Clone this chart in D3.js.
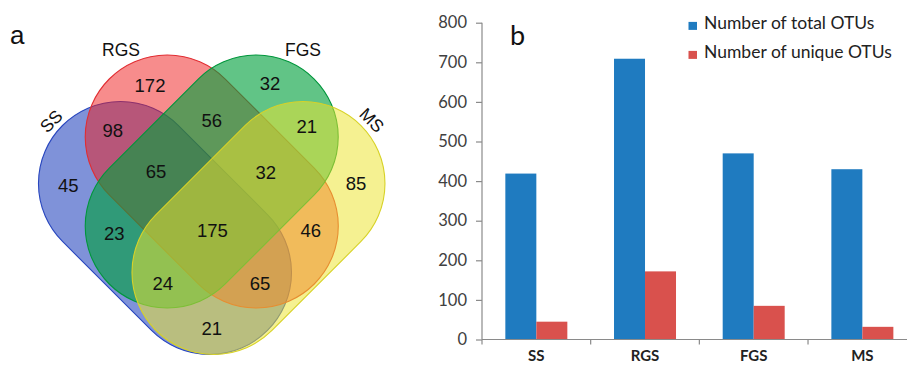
<!DOCTYPE html>
<html>
<head>
<meta charset="utf-8">
<script src="https://cdn.jsdelivr.net/npm/d3@7"></script>
<style>
  html, body { margin: 0; padding: 0; background: #ffffff; }
  svg { display: block; }
</style>
</head>
<body>
<svg id="fig" width="907" height="365"></svg>
<script>
// ---------- Panel a: four-set Venn ----------
const setNames = ["SS", "RGS", "FGS", "MS"];
// region keys (set membership) and the OTU count of each region
const vennRegions = [
  "SS", "RGS", "FGS", "MS",
  "SS&RGS", "RGS&FGS", "FGS&MS",
  "SS&RGS&FGS", "RGS&FGS&MS",
  "SS&FGS", "SS&RGS&FGS&MS", "RGS&MS",
  "SS&FGS&MS", "SS&RGS&MS", "SS&MS"
];
const vennCounts = [45, 172, 32, 85, 98, 56, 21, 65, 32, 23, 175, 46, 24, 65, 21];

// ---------- Panel b: grouped bars ----------
const categories = ["SS", "RGS", "FGS", "MS"];
const totalOTUs  = [419, 709, 470, 430];
const uniqueOTUs = [45, 172, 85, 32];
const seriesNames = ["Number of total OTUs", "Number of unique OTUs"];
const yTickValues = [0, 100, 200, 300, 400, 500, 600, 700, 800];

const svg = d3.select("#fig");

// ===== Venn layout =====
// Shapes are capsules (two end circles joined by tangents), laid out
// in a local frame centred on the diagram's axis of symmetry.
const vx = d3.scaleLinear().domain([-100, 100]).range([111.75, 311.75]);
const vy = d3.scaleLinear().domain([-100, 100]).range([81.5, 281.5]);
const capR = 82;

const shapeLayout = {
  SS:  { c1: [-91.25, 2],    c2: [-2.25, 91],   fill: "rgb(0,38,180)",   op: 0.5,  stroke: "rgb(40,70,190)" },
  RGS: { c1: [-44.5, -44.5], c2: [44.5, 44.5],  fill: "rgb(240,25,25)",  op: 0.5,  stroke: "rgb(225,45,50)" },
  FGS: { c1: [44.5, -44.5],  c2: [-44.5, 44.5], fill: "rgb(0,160,60)",   op: 0.62, stroke: "rgb(0,150,60)" },
  MS:  { c1: [91.25, 2],     c2: [2.25, 91],    fill: "rgb(236,228,48)", op: 0.53, stroke: "rgb(215,210,40)" }
};

function capsule(c1, c2, r) {
  const x1 = vx(c1[0]), y1 = vy(c1[1]), x2 = vx(c2[0]), y2 = vy(c2[1]);
  const len = Math.hypot(x2 - x1, y2 - y1);
  const ux = (x2 - x1) / len, uy = (y2 - y1) / len;
  const nx = -uy, ny = ux;
  const an = Math.atan2(ny, nx);
  const p = d3.path();
  p.moveTo(x1 + r * nx, y1 + r * ny);
  p.lineTo(x2 + r * nx, y2 + r * ny);
  p.arc(x2, y2, r, an, an - Math.PI, true);
  p.lineTo(x1 - r * nx, y1 - r * ny);
  p.arc(x1, y1, r, an - Math.PI, an - 2 * Math.PI, true);
  p.closePath();
  return p.toString();
}

const venn = svg.append("g").attr("class", "venn");

venn.selectAll("path.set")
  .data(setNames)
  .join("path")
  .attr("class", "set")
  .attr("d", d => capsule(shapeLayout[d].c1, shapeLayout[d].c2, capR))
  .attr("fill", d => shapeLayout[d].fill)
  .attr("fill-opacity", d => shapeLayout[d].op)
  .attr("stroke", d => shapeLayout[d].stroke)
  .attr("stroke-width", 1.1);

// label anchor of each region (local frame)
const regionLabelPos = {
  "SS": [-143.4, 3.5], "RGS": [-61.75, -96.5], "FGS": [58.25, -98.5], "MS": [144.25, 1.8],
  "SS&RGS": [-99, -51.5], "RGS&FGS": [0, -61.5], "FGS&MS": [95, -54.8],
  "SS&RGS&FGS": [-55.75, -9.8], "RGS&FGS&MS": [54, -8.8],
  "SS&FGS": [-97.4, 51.8], "SS&RGS&FGS&MS": [0.6, 49.2], "RGS&MS": [99, 48.5],
  "SS&FGS&MS": [-49, 101.8], "SS&RGS&MS": [48.25, 101.8], "SS&MS": [0, 146.8]
};

venn.selectAll("text.count")
  .data(vennRegions.map((k, i) => ({ key: k, n: vennCounts[i] })))
  .join("text")
  .attr("class", "count")
  .attr("x", d => vx(regionLabelPos[d.key][0]))
  .attr("y", d => vy(regionLabelPos[d.key][1]))
  .attr("dy", "0.357em")
  .attr("text-anchor", "middle")
  .attr("font-family", "'Liberation Sans', Arial, sans-serif")
  .attr("font-size", 18.5)
  .attr("fill", "#111")
  .text(d => d.n);

// set names
const setLabelPos = {
  SS:  { p: [-160.75, -60.5], rot: -45 },
  RGS: { p: [-90.75, -131.8], rot: 0 },
  FGS: { p: [91.25, -131.8],  rot: 0 },
  MS:  { p: [160.25, -61.5],  rot: 45 }
};
venn.selectAll("text.setname")
  .data(setNames)
  .join("text")
  .attr("class", "setname")
  .attr("transform", d => `translate(${vx(setLabelPos[d].p[0])},${vy(setLabelPos[d].p[1])}) rotate(${setLabelPos[d].rot})`)
  .attr("dy", "0.36em")
  .attr("text-anchor", "middle")
  .attr("font-family", "'Liberation Sans', Arial, sans-serif")
  .attr("font-size", 17.5)
  .attr("fill", "#111")
  .text(d => d);

svg.append("text")
  .attr("x", 10).attr("y", 44)
  .attr("font-family", "'Liberation Sans', Arial, sans-serif")
  .attr("font-size", 26)
  .attr("fill", "#111")
  .text("a");

// ===== Bar chart =====
const barFont = "Lato, 'Open Sans', sans-serif";
const axisColor = "#8a8a8a";
const colors = ["#1f7bc0", "#d9514d"];

const x = d3.scaleBand().domain(categories).range([482, 916.7]).paddingInner(0).paddingOuter(0);
const xs = d3.scaleBand().domain([0, 1]).range([0, x.bandwidth()]).paddingInner(0).paddingOuter(0.753);
const y = d3.scaleLinear().domain([0, 800]).range([339.5, 22.7]);

const bars = svg.append("g").attr("class", "bars");
const rows = categories.map((c, i) => ({ cat: c, vals: [totalOTUs[i], uniqueOTUs[i]] }));

bars.selectAll("g.grp")
  .data(rows)
  .join("g")
  .attr("class", "grp")
  .attr("transform", d => `translate(${x(d.cat)},0)`)
  .selectAll("rect")
  .data(d => d.vals.map((v, j) => ({ v, j })))
  .join("rect")
  .attr("x", d => xs(d.j))
  .attr("width", xs.bandwidth())
  .attr("y", d => y(d.v))
  .attr("height", d => y(0) - y(d.v))
  .attr("fill", d => colors[d.j]);

// y axis
const yAxis = svg.append("g")
  .attr("transform", "translate(482,0)")
  .call(d3.axisLeft(y).tickValues(yTickValues).tickSize(6).tickPadding(9).tickFormat(d3.format("d")));
yAxis.select(".domain").attr("stroke", axisColor).attr("stroke-width", 1.2).attr("d", `M0,${y(800)}V${y(0)}`);
yAxis.selectAll(".tick line").attr("stroke", axisColor).attr("stroke-width", 1.2);
yAxis.selectAll(".tick text")
  .attr("font-family", barFont).attr("font-size", 16.5).attr("fill", "#404040");

// x axis with boundary ticks
const xAxis = svg.append("g").attr("class", "xaxis");
xAxis.append("line")
  .attr("x1", x.range()[0]).attr("x2", x.range()[1])
  .attr("y1", y(0)).attr("y2", y(0))
  .attr("stroke", axisColor).attr("stroke-width", 1.2);
xAxis.selectAll("line.tk")
  .data(categories)
  .join("line")
  .attr("class", "tk")
  .attr("x1", d => x(d)).attr("x2", d => x(d))
  .attr("y1", y(0)).attr("y2", y(0) + 5)
  .attr("stroke", axisColor).attr("stroke-width", 1.2);
xAxis.selectAll("text")
  .data(categories)
  .join("text")
  .attr("x", d => x(d) + x.bandwidth() / 2)
  .attr("y", 361)
  .attr("text-anchor", "middle")
  .attr("font-family", barFont)
  .attr("font-weight", "bold")
  .attr("font-size", 15)
  .attr("fill", "#222")
  .text(d => d);

// legend
const legend = svg.append("g").attr("class", "legend");
const legendRows = d3.scaleOrdinal().domain(seriesNames).range([29.4, 58.4]);
legend.selectAll("rect")
  .data(seriesNames)
  .join("rect")
  .attr("x", 688.5).attr("y", d => legendRows(d) - 7.5)
  .attr("width", 8.5).attr("height", 8)
  .attr("fill", (d, i) => colors[i]);
legend.selectAll("text")
  .data(seriesNames)
  .join("text")
  .attr("x", 704).attr("y", d => legendRows(d))
  .attr("font-family", barFont)
  .attr("font-size", 17.5)
  .attr("fill", "#222")
  .text(d => d);

svg.append("text")
  .attr("x", 510).attr("y", 45)
  .attr("font-family", barFont)
  .attr("font-size", 27)
  .attr("fill", "#111")
  .text("b");
</script>
</body>
</html>
